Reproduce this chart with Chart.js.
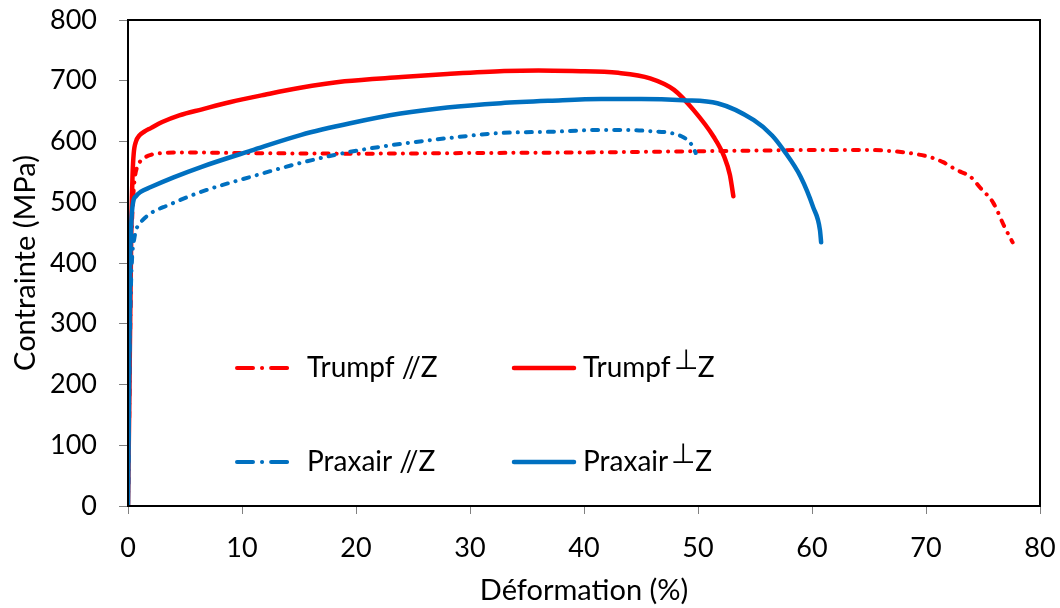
<!DOCTYPE html>
<html>
<head>
<meta charset="utf-8">
<script src="https://cdn.jsdelivr.net/npm/chart.js@4/dist/chart.umd.min.js"></script>
<style>
	body { margin: 0; background: #fff; }
	canvas { display: block; }
</style>
</head>
<body>
<canvas id="chart-traction" width="1060" height="608"></canvas>
<script>
// courbes de traction
const strainTrumpfPar = [0, 0.1, 0.2, 0.3, 0.45, 0.6, 0.8, 1.1, 1.5, 2, 3, 5, 10, 20, 30, 40, 50, 55, 60, 65, 67.1, 69.2, 70.4, 71.5, 72.7, 73.9, 74.8, 75.9, 76.9, 77.6];
const stressTrumpfPar = [0, 140, 300, 430, 505, 540, 558, 568, 574, 578, 581, 582, 581, 580, 581, 582, 584, 585, 586, 586, 584, 579, 574, 566, 553, 542, 523, 499, 459, 434];

const strainTrumpfPerp = [0, 0.1, 0.2, 0.3, 0.4, 0.5, 0.7, 1.0, 1.5, 2, 3, 4.5, 6.5, 9, 12, 15, 19, 24, 28, 33, 36, 39, 43, 45.8, 47.9, 49.6, 51.4, 52.3, 52.8, 53.1];
const stressTrumpfPerp = [0, 150, 320, 470, 545, 580, 600, 610, 617, 622, 632, 643, 653, 665, 677, 688, 699, 706, 711, 716, 717, 716, 713, 704, 685, 652, 607, 575, 545, 510];

const strainPraxairPar = [0, 0.05, 0.1, 0.2, 0.3, 0.4, 0.55, 0.7, 1.0, 1.3, 2, 3.5, 6.4, 10.8, 15.2, 19.5, 23.9, 28.3, 32.7, 37.1, 41.5, 44, 45.8, 47.6, 48.5, 49.1, 49.5, 49.8];
const stressPraxairPar = [0, 90, 190, 320, 385, 420, 440, 454, 464, 471, 482, 495, 517, 542, 565, 583, 596, 606, 614, 616, 619, 619, 617, 614, 609, 602, 593, 581];

const strainPraxairPerp = [0, 0.05, 0.1, 0.15, 0.2, 0.3, 0.45, 0.7, 1.1, 2, 4, 6.4, 10.8, 15.2, 19.5, 23.9, 28, 32.7, 37, 41.5, 45, 48.7, 51.7, 54.9, 56.5, 57.5, 59, 60.1, 60.7, 60.8];
const stressPraxairPerp = [0, 100, 220, 330, 410, 470, 500, 510, 517, 525, 541, 558, 585, 611, 630, 646, 656, 663, 667, 670, 670, 668, 663, 635, 610, 586, 542, 492, 454, 434];

const seriesNames = ['Trumpf //Z', 'Trumpf \u22A5Z', 'Praxair //Z', 'Praxair \u22A5Z'];
const xTicks = [0, 10, 20, 30, 40, 50, 60, 70, 80];
const yTicks = [0, 100, 200, 300, 400, 500, 600, 700, 800];

const RED = '#ff0000';
const BLUE = '#0070c0';
const DASHDOT = [6, 8, 0.1, 8];
const FONT = 'Lato, "Open Sans", sans-serif';

const pts = (xs, ys) => xs.map((x, i) => ({ x: x, y: ys[i] }));

const line = (label, data, color, dash, order) => ({
	label: label,
	data: data,
	showLine: true,
	borderColor: color,
	backgroundColor: color,
	borderWidth: dash ? 4 : 4.5,
	borderDash: dash || [],
	borderCapStyle: 'round',
	borderJoinStyle: 'round',
	pointRadius: 0,
	cubicInterpolationMode: 'monotone',
	order: order
});

// legende 2x2 dans la zone du graphe, comme dans Excel
const legendPlugin = {
	id: 'legendInside',
	afterDraw(chart) {
		const ctx = chart.ctx;
		const rows = [
			{ y: 368, color: RED, names: [seriesNames[0], seriesNames[1]] },
			{ y: 462, color: BLUE, names: [seriesNames[2], seriesNames[3]] }
		];
		ctx.save();
		ctx.font = '28px ' + FONT;
		ctx.fillStyle = '#000';
		ctx.textBaseline = 'middle';
		ctx.lineCap = 'round';
		rows.forEach(r => {
			// dash-dot
			ctx.strokeStyle = r.color;
			ctx.lineWidth = 4;
			ctx.setLineDash([16, 9, 0.1, 9]);
			ctx.beginPath();
			ctx.moveTo(237, r.y);
			ctx.lineTo(290, r.y);
			ctx.stroke();
			ctx.fillText(r.names[0], 307, r.y);
			// trait plein
			ctx.setLineDash([]);
			ctx.lineWidth = 4.5;
			ctx.beginPath();
			ctx.moveTo(514, r.y);
			ctx.lineTo(574, r.y);
			ctx.stroke();
			const base = r.names[1].split(' ')[0];
			ctx.fillText(base, 583, r.y);
			let x = 583 + ctx.measureText(base + ' ').width - 4;
			ctx.fillText('\u22A5', x, r.y - 8);
			x += ctx.measureText('\u22A5').width;
			ctx.fillText('Z', x, r.y);
		});
		ctx.restore();
	}
};

// cadre noir autour de la zone
const framePlugin = {
	id: 'frame',
	afterDatasetsDraw(chart) {
		const a = chart.chartArea;
		const ctx = chart.ctx;
		ctx.save();
		ctx.strokeStyle = '#000';
		ctx.lineWidth = 2;
		ctx.strokeRect(a.left, a.top, a.right - a.left, a.bottom - a.top);
		ctx.restore();
	}
};

const ctx = document.getElementById('chart-traction').getContext('2d');
const myChart = new Chart(ctx, {
	type: 'scatter',
	data: {
		datasets: [
			line(seriesNames[0], pts(strainTrumpfPar, stressTrumpfPar), RED, DASHDOT, 4),
			line(seriesNames[1], pts(strainTrumpfPerp, stressTrumpfPerp), RED, null, 3),
			line(seriesNames[2], pts(strainPraxairPar, stressPraxairPar), BLUE, DASHDOT, 2),
			line(seriesNames[3], pts(strainPraxairPerp, stressPraxairPerp), BLUE, null, 1)
		]
	},
	options: {
		responsive: false,
		animation: false,
		layout: { padding: { top: 20, right: 20, left: 8, bottom: 0 } },
		plugins: {
			legend: { display: false },
			tooltip: { enabled: false }
		},
		scales: {
			x: {
				type: 'linear',
				min: 0,
				max: 80,
				afterBuildTicks: s => { s.ticks = xTicks.map(v => ({ value: v })); },
				afterFit: s => { s.height = 102; s.paddingLeft = 0; s.paddingRight = 0; },
				grid: { drawOnChartArea: false, drawTicks: true, tickLength: 8, color: '#808080' },
				border: { color: '#000', width: 2 },
				ticks: { color: '#000', font: { family: FONT, size: 27 }, padding: 18, maxRotation: 0 },
				title: { display: true, text: 'Déformation (%)', color: '#000', font: { family: FONT, size: 29 }, padding: { top: 0, bottom: 0 } }
			},
			y: {
				min: 0,
				max: 800,
				afterBuildTicks: s => { s.ticks = yTicks.map(v => ({ value: v })); },
				afterFit: s => { s.width = 120; s.paddingTop = 0; s.paddingBottom = 0; },
				grid: { drawOnChartArea: false, drawTicks: true, tickLength: 9, color: '#808080' },
				border: { color: '#000', width: 2 },
				ticks: { color: '#000', font: { family: FONT, size: 27 }, padding: 22 },
				title: { display: true, text: 'Contrainte (MPa)', color: '#000', font: { family: FONT, size: 29 }, padding: { top: 0, bottom: 0 } }
			}
		}
	},
	plugins: [legendPlugin, framePlugin]
});
</script>
</body>
</html>
